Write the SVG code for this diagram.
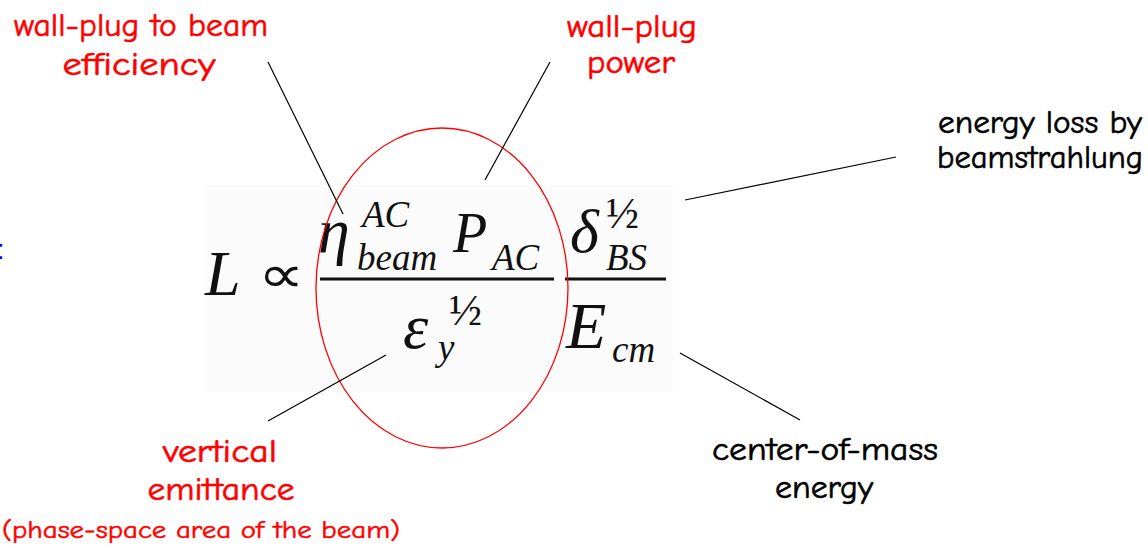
<svg xmlns="http://www.w3.org/2000/svg" width="1148" height="548" viewBox="0 0 1148 548">
<style>
.lbl{font-family:"Comic Neue","DejaVu Sans","Liberation Sans",sans-serif;font-size:32px;font-weight:400;text-anchor:middle;stroke-width:0.6px}
.red{fill:#ff0000;stroke:#ff0000}
.blk{fill:#000;stroke:#000}
.small{font-size:24px;stroke-width:0.5px}
.m{font-family:"Liberation Serif","Times New Roman",serif;font-style:italic;fill:#111}
.mu{font-family:"Liberation Serif","Times New Roman",serif;fill:#111}
.conn line{stroke:#000;stroke-width:1.2}
</style>
<rect width="1148" height="548" fill="#fff"/>
<g id="formula">
<rect x="205" y="185" width="468" height="207" fill="#fbfbfb"/>
<text class="m" x="205" y="295" font-size="64">L</text>
<text class="mu" x="259" y="292" font-size="52" transform="translate(261 277) scale(1.25 1) translate(-261 -277)">∝</text>
<rect x="320" y="277.5" width="234" height="3" fill="#111"/>
<rect x="565" y="277.5" width="101" height="3" fill="#111"/>
<text class="m" x="318" y="252" font-size="64">η</text>
<text class="m" x="362" y="227" font-size="37">AC</text>
<text class="m" x="357" y="270" font-size="37">beam</text>
<text class="m" x="453" y="252" font-size="56">P</text>
<text class="m" x="492" y="270" font-size="37">AC</text>
<text class="m" x="570" y="252" font-size="62">δ</text>
<text class="mu" x="606" y="228" font-size="44">½</text>
<text class="m" x="606" y="270" font-size="37">BS</text>
<text class="m" x="403" y="348" font-size="64">ε</text>
<text class="mu" x="449" y="325" font-size="44">½</text>
<text class="m" x="438" y="360" font-size="37">y</text>
<text class="m" x="566" y="348" font-size="66">E</text>
<text class="m" x="612" y="362" font-size="37">cm</text>
</g>
<g id="ellipse">
<ellipse cx="442" cy="288" rx="126" ry="160" fill="none" stroke="#ff0000" stroke-width="1.3"/>
</g>
<g class="conn" id="connectors">
<line x1="268" y1="62" x2="343" y2="214"/>
<line x1="550" y1="62" x2="485" y2="180"/>
<line x1="685" y1="200" x2="896" y2="157"/>
<line x1="680" y1="353" x2="800" y2="420"/>
<line x1="386" y1="355" x2="268" y2="421"/>
</g>
<g id="label-efficiency">
<text class="lbl red" x="141" y="36" textLength="254" lengthAdjust="spacingAndGlyphs">wall-plug to beam</text>
<text class="lbl red" x="139" y="75" textLength="153" lengthAdjust="spacingAndGlyphs">efficiency</text>
</g>
<g id="label-power">
<text class="lbl red" x="632" y="37" textLength="130" lengthAdjust="spacingAndGlyphs">wall-plug</text>
<text class="lbl red" x="631" y="73" textLength="88" lengthAdjust="spacingAndGlyphs">power</text>
</g>
<g id="label-beamstrahlung">
<text class="lbl blk" x="1040" y="133" textLength="204" lengthAdjust="spacingAndGlyphs">energy loss by</text>
<text class="lbl blk" x="1040" y="168" textLength="206" lengthAdjust="spacingAndGlyphs">beamstrahlung</text>
</g>
<g id="label-emittance">
<text class="lbl red" x="220" y="462" textLength="114" lengthAdjust="spacingAndGlyphs">vertical</text>
<text class="lbl red" x="221" y="500" textLength="147" lengthAdjust="spacingAndGlyphs">emittance</text>
<text class="lbl red small" x="201" y="538" textLength="398" lengthAdjust="spacingAndGlyphs">(phase-space area of the beam)</text>
</g>
<g id="label-energy">
<text class="lbl blk" x="825" y="460" textLength="226" lengthAdjust="spacingAndGlyphs">center-of-mass</text>
<text class="lbl blk" x="824" y="498" textLength="98" lengthAdjust="spacingAndGlyphs">energy</text>
</g>
<g id="colon">
<text x="-3" y="259" font-family="Liberation Sans, sans-serif" font-size="27" fill="#0000ff">:</text>
</g>
</svg>
